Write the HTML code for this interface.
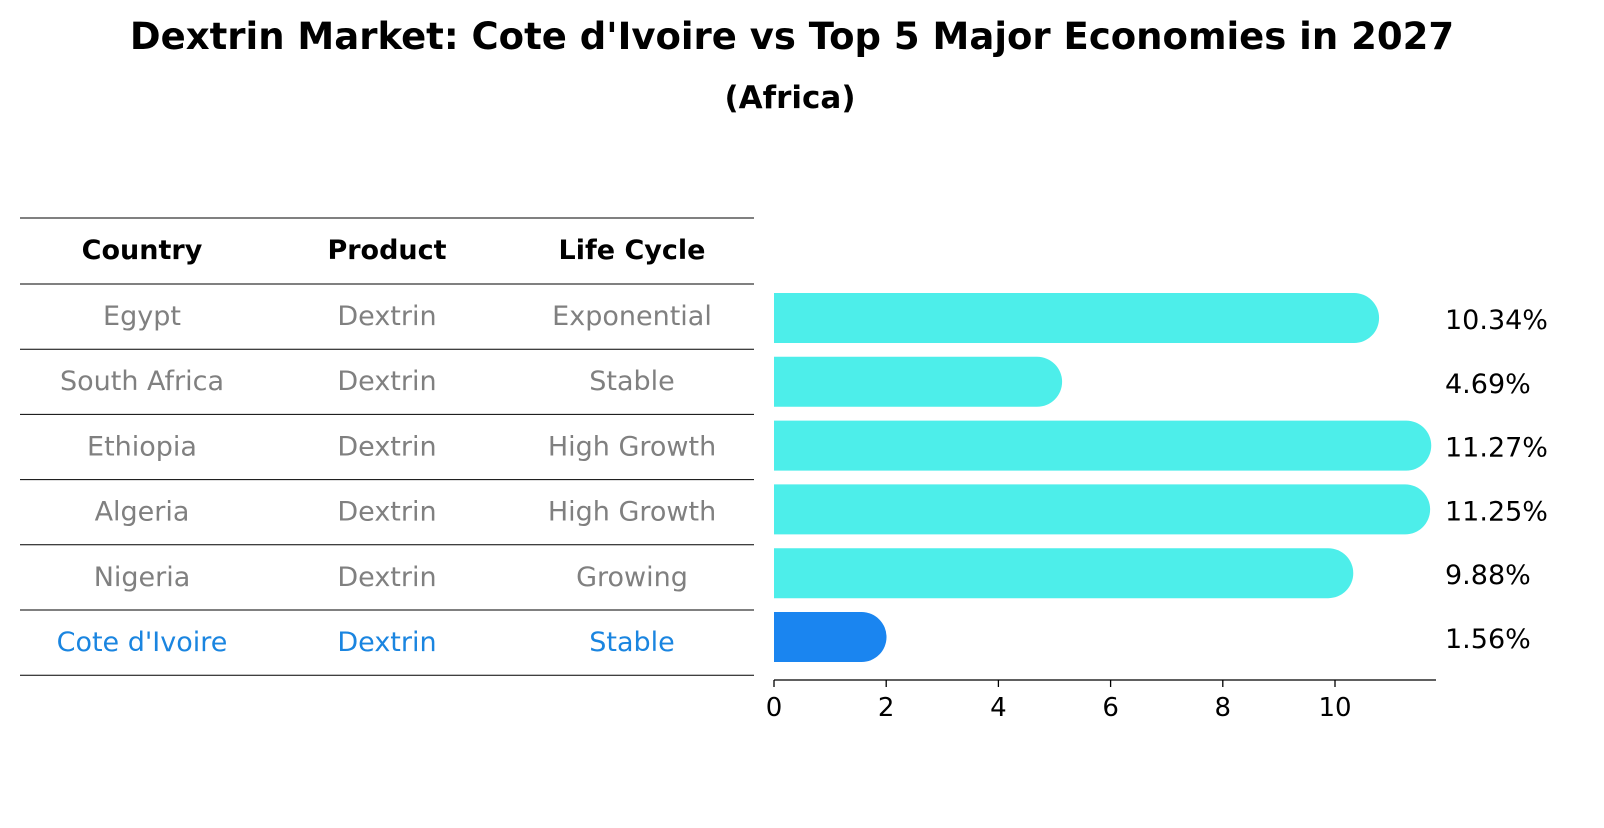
<!DOCTYPE html>
<html><head><meta charset="utf-8"><style>
body{margin:0;background:#fff;font-family:"Liberation Sans","DejaVu Sans",sans-serif;}
svg text{font-family:"DejaVu Sans","Liberation Sans",sans-serif;}
</style></head><body>
<svg width="1604" height="823" xmlns="http://www.w3.org/2000/svg">
<text x="792" y="49" text-anchor="middle" font-size="37" font-weight="bold">Dextrin Market: Cote d'Ivoire vs Top 5 Major Economies in 2027</text>
<text x="790" y="108" text-anchor="middle" font-size="31" font-weight="bold">(Africa)</text>
<g id="table"></g>
<g id="bars"></g>
<g id="axis"></g>
</svg>
<script>
const countries=["Egypt","South Africa","Ethiopia","Algeria","Nigeria","Cote d'Ivoire"];
const products=["Dextrin","Dextrin","Dextrin","Dextrin","Dextrin","Dextrin"];
const lifeCycles=["Exponential","Stable","High Growth","High Growth","Growing","Stable"];
const values=[10.34,4.69,11.27,11.25,9.88,1.56];
const labels=["10.34%","4.69%","11.27%","11.25%","9.88%","1.56%"];
const ticks=[0,2,4,6,8,10];
const NS="http://www.w3.org/2000/svg";
function mk(tag,attrs,parent,txt){const e=document.createElementNS(NS,tag);for(const k in attrs)e.setAttribute(k,attrs[k]);if(txt!==undefined)e.textContent=txt;parent.appendChild(e);return e;}
const x0=774,scale=56.1;
const xs=v=>x0+v*scale;
const rowY=i=>318+i*63.8;
const tbl=document.getElementById('table');
const lineYs=[218,284];
for(let i=0;i<countries.length;i++)lineYs.push(284+(i+1)*65.2);
lineYs.forEach(y=>{const l=mk('line',{x1:20,x2:754,y1:y,y2:y,stroke:'#000','stroke-width':1},tbl);

});
const cols=[142,387,632];
["Country","Product","Life Cycle"].forEach((h,j)=>{const t=mk('text',{x:cols[j],y:259,'text-anchor':'middle','font-size':27,'font-weight':'bold'},tbl,h);

});
countries.forEach((c,i)=>{const y=316+i*65.2+9;const last=i===countries.length-1;const col=last?'#1a85e0':'#808080';
[c,products[i],lifeCycles[i]].forEach((v,j)=>{const t=mk('text',{x:cols[j],y:y,'text-anchor':'middle','font-size':27,fill:col},tbl,v);

});});
const bars=document.getElementById('bars');
const h=50,r=25;
values.forEach((v,i)=>{const cy=rowY(i);const xe=xs(v);const last=i===values.length-1;const col=last?'#1a85f0':'#4deeea';
const p=mk('path',{d:`M${x0},${cy-h/2} L${xe},${cy-h/2} A${r},${r} 0 0 1 ${xe},${cy+h/2} L${x0},${cy+h/2} Z`,fill:col},bars);


const t=mk('text',{x:1445,y:cy+11,'font-size':27},bars,labels[i]);

});
const ax=document.getElementById('axis');
const al=mk('line',{x1:x0,x2:1436,y1:680,y2:680,stroke:'#000','stroke-width':1.3},ax);


ticks.forEach(tv=>{const x=xs(tv);const tl=mk('line',{x1:x,x2:x,y1:680,y2:687,stroke:'#000','stroke-width':1.3},ax);


const t=mk('text',{x:x,y:716,'text-anchor':'middle','font-size':26},ax,String(tv));

});
</script>
</body></html>
